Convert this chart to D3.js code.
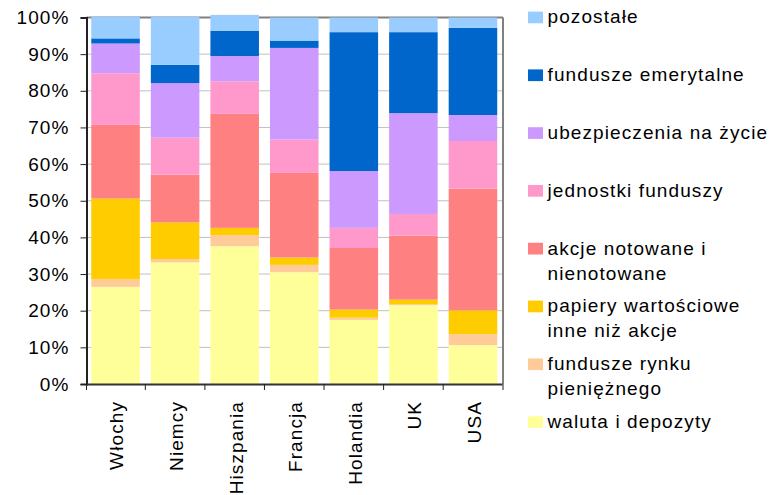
<!DOCTYPE html>
<html>
<head>
<meta charset="utf-8">
<script src="https://cdn.jsdelivr.net/npm/d3@7"></script>
<style>
  body { margin: 0; background: #fff; }
  svg text { font-family: "Liberation Sans", Arial, sans-serif; font-size: 19px; letter-spacing: 1.1px; fill: #000; }
</style>
</head>
<body>
<svg id="chart" width="780" height="495"></svg>
<script>
// kraje
var countries = ["Włochy", "Niemcy", "Hiszpania", "Francja", "Holandia", "UK", "USA"];

// udzialy w % (od dolu do gory)
var waluta     = [26.5, 33.2, 37.6, 30.5, 17.5, 21.5, 10.6];
var rynekPien  = [2.1, 0.9, 3.0, 2.0, 0.6, 0.3, 3.0];
var papiery    = [22.0, 10.0, 2.0, 2.0, 2.2, 1.2, 6.5];
var akcje      = [20.1, 13.0, 31.1, 23.1, 16.8, 17.5, 33.2];
var jednostki  = [14.1, 10.1, 8.9, 9.1, 5.5, 5.9, 13.0];
var ubezp      = [8.1, 14.9, 6.9, 25.0, 15.5, 27.5, 7.1];
var emerytalne = [1.4, 5.0, 6.9, 2.0, 37.9, 22.1, 23.8];
var pozostale  = [5.9, 13.1, 4.3, 6.3, 4.0, 4.0, 2.8];

var seriesNames = ["waluta i depozyty", "fundusze rynku pieniężnego", "papiery wartościowe inne niż akcje",
  "akcje notowane i nienotowane", "jednostki funduszy", "ubezpieczenia na życie", "fundusze emerytalne", "pozostałe"];
var legendLines = [["waluta i depozyty"], ["fundusze rynku", "pieniężnego"], ["papiery wartościowe", "inne niż akcje"],
  ["akcje notowane i", "nienotowane"], ["jednostki funduszy"], ["ubezpieczenia na życie"], ["fundusze emerytalne"], ["pozostałe"]];
var seriesColors = ["#FFFF99", "#FFCC99", "#FFCC00", "#FF8080", "#FF99CC", "#CC99FF", "#0066CC", "#99CCFF"];
var yTicks = [0, 10, 20, 30, 40, 50, 60, 70, 80, 90, 100];

var seriesValues = [waluta, rynekPien, papiery, akcje, jednostki, ubezp, emerytalne, pozostale];

// tabela dla d3.stack
var table = countries.map(function (c, i) {
  var row = { country: c };
  seriesNames.forEach(function (s, k) { row[s] = seriesValues[k][i]; });
  return row;
});

var svg = d3.select("#chart");
var plotLeft = 86.5, plotRight = 502, plotTop = 17.5, plotBottom = 384;

var x = d3.scaleBand().domain(countries).range([plotLeft, plotRight]).paddingInner(0.185).paddingOuter(0.08);
var y = d3.scaleLinear().domain([0, 100]).range([plotBottom, plotTop]);

// siatka
svg.append("g").selectAll("line").data(yTicks.slice(1, -1)).enter().append("line")
  .attr("x1", plotLeft).attr("x2", plotRight)
  .attr("y1", function (d) { return y(d); }).attr("y2", function (d) { return y(d); })
  .attr("stroke", "#c0c0c0").attr("stroke-width", 1);

// ramka (gora i prawo)
svg.append("line").attr("x1", plotLeft).attr("x2", plotRight + 1).attr("y1", plotTop).attr("y2", plotTop)
  .attr("stroke", "#808080").attr("stroke-width", 2);
svg.append("line").attr("x1", plotRight + 1).attr("x2", plotRight + 1).attr("y1", plotTop).attr("y2", plotBottom)
  .attr("stroke", "#808080").attr("stroke-width", 2);

var stack = d3.stack().keys(seriesNames)(table);

svg.append("g").selectAll("g").data(stack).enter().append("g")
  .attr("fill", function (d, i) { return seriesColors[i]; })
  .selectAll("rect").data(function (d) { return d; }).enter().append("rect")
  .attr("x", function (d) { return x(d.data.country); })
  .attr("width", x.bandwidth())
  .attr("y", function (d) { return y(d[1]); })
  .attr("height", function (d) { return y(d[0]) - y(d[1]); });

// os Y
var yAxis = svg.append("g").attr("transform", "translate(" + plotLeft + ",0)")
  .call(d3.axisLeft(y).tickValues(yTicks).tickSize(6).tickPadding(11).tickFormat(function (d) { return d + "%"; }));
yAxis.select(".domain").attr("stroke", "#222").attr("stroke-width", 2);
yAxis.selectAll(".tick line").attr("stroke", "#222");
yAxis.selectAll("text").attr("font-size", null).attr("font-family", null).attr("fill", "#000");

// os X
var xAxis = svg.append("g").attr("transform", "translate(0," + plotBottom + ")")
  .call(d3.axisBottom(x).tickSize(0).tickFormat(""));
xAxis.select(".domain").attr("stroke", "#333").attr("stroke-width", 2);
xAxis.selectAll(".tick").remove();

var step = x.step();
var boundaries = [plotLeft].concat(countries.map(function (c) { return x(c) + x.bandwidth() + step * x.paddingInner() / 2; }));
boundaries[boundaries.length - 1] = plotRight + 1;
svg.append("g").selectAll("line").data(boundaries).enter().append("line")
  .attr("x1", function (d) { return d; }).attr("x2", function (d) { return d; })
  .attr("y1", plotBottom).attr("y2", plotBottom + 6)
  .attr("stroke", "#222");

svg.append("g").selectAll("text").data(countries).enter().append("text")
  .attr("transform", function (d) { return "translate(" + (x(d) + x.bandwidth() / 2 + 1) + "," + (plotBottom + 17) + ") rotate(-90)"; })
  .attr("text-anchor", "end")
  .attr("dy", "0.36em")
  .text(function (d) { return d; });

// legenda (od gory: pozostale ... waluta)
var legendOrder = d3.range(seriesNames.length).reverse();
var legend = svg.append("g").selectAll("g").data(legendOrder).enter().append("g")
  .attr("transform", function (d, i) { return "translate(528," + (23.3 + i * 57.8) + ")"; });

legend.append("rect")
  .attr("x", 0).attr("y", -11.7).attr("width", 15).attr("height", 11.7)
  .attr("fill", function (d) { return seriesColors[d]; });

legend.append("text")
  .attr("x", 19.5)
  .selectAll("tspan").data(function (d) { return legendLines[d]; }).enter().append("tspan")
  .attr("x", 19.5)
  .attr("y", function (d, j) { return j * 25; })
  .text(function (d) { return d; });
</script>
</body>
</html>
